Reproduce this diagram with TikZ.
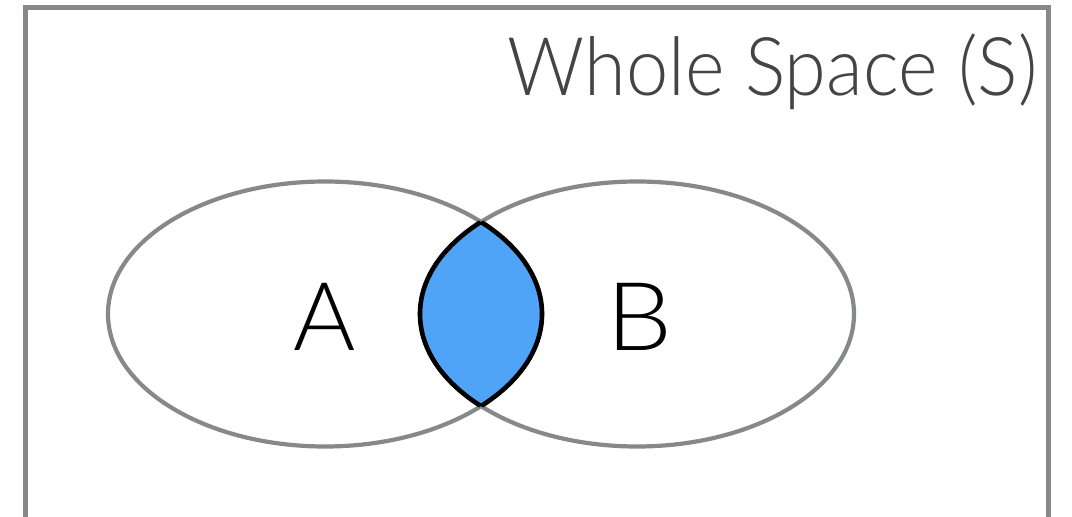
\documentclass[tikz,border=0pt]{standalone}
\usepackage{fontspec}
\setmainfont{Lato Light}
\definecolor{framegray}{HTML}{86898C}
\definecolor{lensblue}{HTML}{50A4F8}
\definecolor{labelgray}{HTML}{444444}
\tikzset{
  frameline/.style={draw=framegray, line width=5bp},
  setline/.style={draw=framegray, line width=4.2bp},
  lensline/.style={draw=black, line width=4.6bp},
  biglabel/.style={inner sep=0pt, font=\fontsize{95bp}{95bp}\selectfont, text=black},
  spacelabel/.style={inner sep=0pt, font=\fontsize{81bp}{81bp}\selectfont, text=labelgray}
}
\begin{document}
\begin{tikzpicture}[x=1bp,y=-1bp]
\useasboundingbox (0,0) rectangle (1072,517);
\clip (0,0) rectangle (1072,517);
% whole space frame
\draw[frameline] (25.5,7.5) rectangle (1048.5,540);
% lens fill
\begin{scope}
  \clip (325,314) ellipse [x radius=217, y radius=132.5];
  \fill[lensblue] (637,314) ellipse [x radius=217, y radius=132.5];
\end{scope}
% sets
\draw[setline] (325,314) ellipse [x radius=217, y radius=132.5];
\draw[setline] (637,314) ellipse [x radius=217, y radius=132.5];
% lens outline
\begin{scope}
  \clip (325,314) ellipse [x radius=217, y radius=132.5];
  \draw[lensline] (637,314) ellipse [x radius=217, y radius=132.5];
\end{scope}
\begin{scope}
  \clip (637,314) ellipse [x radius=217, y radius=132.5];
  \draw[lensline] (325,314) ellipse [x radius=217, y radius=132.5];
\end{scope}
% labels
\node[biglabel, anchor=base] (la) at (325,351) {A};
\node[biglabel, anchor=base, xscale=1.1] (lb) at (639.5,351) {B};
\node[spacelabel, anchor=base east, xscale=0.935] (ls) at (1038,96) {Whole Space (S)};
\end{tikzpicture}
\end{document}
